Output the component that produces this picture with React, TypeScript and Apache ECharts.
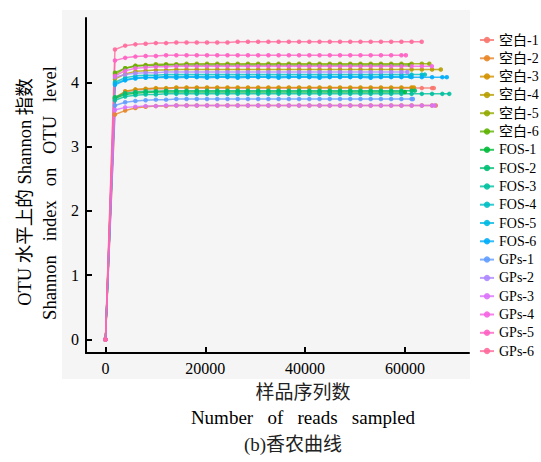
import React, { useEffect, useRef } from "react";
import * as echarts from "echarts";

const names = [
  "空白-1", "空白-2", "空白-3", "空白-4", "空白-5", "空白-6",
  "FOS-1", "FOS-2", "FOS-3", "FOS-4", "FOS-5", "FOS-6",
  "GPs-1", "GPs-2", "GPs-3", "GPs-4", "GPs-5", "GPs-6",
];

const colors = [
  "#F8766D", "#E88526", "#D39200", "#B79F00", "#93AA00", "#5EB300",
  "#00BA38", "#00BF74", "#00C19F", "#00BFC4", "#00B9E3", "#00ADFA",
  "#619CFF", "#AE87FF", "#DB72FB", "#F564E3", "#FF61C3", "#FF699C",
];

// sampling depths (reads) shared by all curves
const depths = [
  0, 1900, 3950, 6000, 8050, 10100, 12150, 14200, 16250, 18300,
  20350, 22400, 24450, 26500, 28550, 30600, 32650, 34700, 36750, 38800,
  40850, 42900, 44950, 47000, 49050, 51100, 53150, 55200, 57250, 59300,
  61350, 63400, 65450, 67500,
];

// final (total) reads of each sample, same order as names
const endReads = [
  65800, 66200, 61800, 67200, 64900, 61000,
  60000, 62000, 68900, 64000, 61000, 68400,
  61600, 60500, 66000, 65400, 60200, 63370,
];

const blank1 = [0, 3.74, 3.85, 3.88, 3.89, 3.90, 3.90, 3.91, 3.91, 3.91,
  3.91, 3.91, 3.91, 3.91, 3.91, 3.91, 3.91, 3.91, 3.91, 3.91,
  3.91, 3.91, 3.91, 3.91, 3.91, 3.91, 3.91, 3.91, 3.91, 3.91,
  3.91, 3.91, 3.91, 3.91];
const blank2 = [0, 3.50, 3.56, 3.60, 3.62, 3.63, 3.63, 3.64, 3.64, 3.64,
  3.64, 3.64, 3.64, 3.64, 3.64, 3.64, 3.64, 3.64, 3.64, 3.64,
  3.64, 3.64, 3.64, 3.64, 3.64, 3.64, 3.64, 3.64, 3.64, 3.64,
  3.64, 3.64, 3.64, 3.64];
const blank3 = [0, 3.76, 3.86, 3.89, 3.90, 3.91, 3.91, 3.92, 3.92, 3.92,
  3.92, 3.92, 3.92, 3.92, 3.92, 3.92, 3.92, 3.92, 3.92, 3.92,
  3.92, 3.92, 3.92, 3.92, 3.92, 3.92, 3.92, 3.92, 3.92, 3.92,
  3.92, 3.92];
const blank4 = [0, 4.05, 4.13, 4.17, 4.18, 4.19, 4.19, 4.20, 4.20, 4.20,
  4.20, 4.20, 4.20, 4.20, 4.20, 4.20, 4.20, 4.20, 4.20, 4.20,
  4.20, 4.20, 4.20, 4.20, 4.20, 4.20, 4.20, 4.20, 4.20, 4.20,
  4.20, 4.20, 4.20, 4.20];
const blank5 = [0, 4.12, 4.22, 4.26, 4.27, 4.28, 4.28, 4.28, 4.29, 4.29,
  4.29, 4.29, 4.29, 4.29, 4.29, 4.29, 4.29, 4.29, 4.29, 4.29,
  4.29, 4.29, 4.29, 4.29, 4.29, 4.29, 4.29, 4.29, 4.29, 4.29,
  4.29, 4.29, 4.29];
const blank6 = [0, 4.15, 4.22, 4.25, 4.26, 4.26, 4.27, 4.27, 4.27, 4.27,
  4.27, 4.27, 4.27, 4.27, 4.27, 4.27, 4.27, 4.27, 4.27, 4.27,
  4.27, 4.27, 4.27, 4.27, 4.27, 4.27, 4.27, 4.27, 4.27, 4.27,
  4.27];
const fos1 = [0, 3.75, 3.81, 3.83, 3.84, 3.85, 3.85, 3.85, 3.85, 3.85,
  3.85, 3.85, 3.85, 3.85, 3.85, 3.85, 3.85, 3.85, 3.85, 3.85,
  3.85, 3.85, 3.85, 3.85, 3.85, 3.85, 3.85, 3.85, 3.85, 3.85,
  3.85];
const fos2 = [0, 3.77, 3.83, 3.85, 3.86, 3.86, 3.87, 3.87, 3.87, 3.87,
  3.87, 3.87, 3.87, 3.87, 3.87, 3.87, 3.87, 3.87, 3.87, 3.87,
  3.87, 3.87, 3.87, 3.87, 3.87, 3.87, 3.87, 3.87, 3.87, 3.87,
  3.87, 3.87];
const fos3 = [0, 3.72, 3.78, 3.80, 3.81, 3.81, 3.82, 3.82, 3.82, 3.82,
  3.82, 3.82, 3.82, 3.82, 3.82, 3.82, 3.82, 3.82, 3.82, 3.82,
  3.82, 3.82, 3.82, 3.82, 3.82, 3.82, 3.82, 3.82, 3.82, 3.82,
  3.82, 3.82, 3.82, 3.82, 3.82];
const fos4 = [0, 4.00, 4.07, 4.10, 4.11, 4.11, 4.12, 4.12, 4.12, 4.12,
  4.12, 4.12, 4.12, 4.12, 4.12, 4.12, 4.12, 4.12, 4.12, 4.12,
  4.12, 4.12, 4.12, 4.12, 4.12, 4.12, 4.12, 4.12, 4.12, 4.12,
  4.12, 4.12, 4.12];
const fos5 = [0, 3.98, 4.04, 4.07, 4.08, 4.08, 4.09, 4.09, 4.09, 4.09,
  4.09, 4.09, 4.09, 4.09, 4.09, 4.09, 4.09, 4.09, 4.09, 4.09,
  4.09, 4.09, 4.09, 4.09, 4.09, 4.09, 4.09, 4.09, 4.09, 4.09,
  4.09];
const fos6 = [0, 3.96, 4.03, 4.06, 4.07, 4.07, 4.08, 4.07, 4.08, 4.08,
  4.07, 4.08, 4.08, 4.07, 4.08, 4.08, 4.08, 4.07, 4.08, 4.08,
  4.08, 4.07, 4.08, 4.08, 4.08, 4.08, 4.07, 4.08, 4.08, 4.08,
  4.08, 4.08, 4.08, 4.08, 4.08];
const gps1 = [0, 3.64, 3.69, 3.71, 3.72, 3.73, 3.73, 3.74, 3.74, 3.74,
  3.74, 3.74, 3.74, 3.74, 3.74, 3.74, 3.74, 3.74, 3.74, 3.74,
  3.74, 3.74, 3.74, 3.74, 3.74, 3.74, 3.74, 3.74, 3.74, 3.74,
  3.74, 3.74];
const gps2 = [0, 4.08, 4.12, 4.14, 4.15, 4.15, 4.16, 4.16, 4.16, 4.16,
  4.16, 4.16, 4.16, 4.16, 4.16, 4.16, 4.16, 4.16, 4.16, 4.16,
  4.16, 4.16, 4.16, 4.16, 4.16, 4.16, 4.16, 4.16, 4.16, 4.16,
  4.16];
const gps3 = [0, 3.57, 3.61, 3.62, 3.63, 3.63, 3.64, 3.64, 3.64, 3.64,
  3.64, 3.64, 3.64, 3.64, 3.64, 3.64, 3.64, 3.64, 3.64, 3.64,
  3.64, 3.64, 3.64, 3.64, 3.64, 3.64, 3.64, 3.64, 3.64, 3.64,
  3.64, 3.64, 3.64, 3.64];
const gps4 = [0, 4.10, 4.18, 4.22, 4.23, 4.24, 4.24, 4.25, 4.25, 4.25,
  4.25, 4.25, 4.25, 4.25, 4.25, 4.25, 4.25, 4.25, 4.25, 4.25,
  4.25, 4.25, 4.25, 4.25, 4.25, 4.25, 4.25, 4.25, 4.25, 4.25,
  4.25, 4.25, 4.25];
const gps5 = [0, 4.34, 4.38, 4.40, 4.41, 4.41, 4.42, 4.42, 4.42, 4.42,
  4.42, 4.42, 4.42, 4.42, 4.42, 4.42, 4.42, 4.42, 4.42, 4.42,
  4.42, 4.42, 4.42, 4.42, 4.42, 4.42, 4.42, 4.42, 4.42, 4.42,
  4.42];
const gps6 = [0, 4.51, 4.57, 4.59, 4.60, 4.61, 4.61, 4.62, 4.62, 4.62,
  4.62, 4.62, 4.62, 4.63, 4.63, 4.63, 4.63, 4.63, 4.63, 4.63,
  4.63, 4.63, 4.63, 4.63, 4.63, 4.63, 4.63, 4.63, 4.63, 4.63,
  4.63, 4.63];

const seriesValues = [
  blank1, blank2, blank3, blank4, blank5, blank6,
  fos1, fos2, fos3, fos4, fos5, fos6,
  gps1, gps2, gps3, gps4, gps5, gps6,
];

const xTicks = [0, 20000, 40000, 60000];
const yTicks = [0, 1, 2, 3, 4];

const SERIF = "'Liberation Serif', 'Noto Sans CJK SC', serif";
const NB = "\u00A0";

export default function App() {
  const ref = useRef<HTMLDivElement>(null);
  useEffect(() => {
    if (!ref.current) return;
    const chart = echarts.init(ref.current, null, { renderer: "svg" });
    const series = names.map((name, i) => {
      const vals = seriesValues[i];
      const data = vals.map((v, k) => [k === vals.length - 1 ? endReads[i] : depths[k], v]);
      return {
        name,
        type: "line",
        data,
        symbol: "circle",
        symbolSize: 4.5,
        showSymbol: true,
        color: colors[i],
        lineStyle: { width: 1.5, opacity: 0.8 },
        itemStyle: { opacity: 0.9 },
      };
    });
    const axisStyle = { color: "#000", width: 2 };
    chart.setOption({
      animation: false,
      backgroundColor: "#ffffff",
      grid: { left: 86, top: 18, right: 72, bottom: 109 },
      xAxis: {
        type: "value",
        min: -3900,
        max: 72850,
        axisLine: { show: true, onZero: false, lineStyle: axisStyle },
        axisTick: { show: true, inside: true, length: 6, lineStyle: axisStyle, customValues: xTicks },
        axisLabel: {
          customValues: xTicks,
          formatter: (v: number) => String(v),
          color: "#000",
          fontSize: 16,
          fontFamily: SERIF,
          margin: 7,
        },
        splitLine: { show: false },
      },
      yAxis: {
        type: "value",
        min: -0.21,
        max: 5.0,
        axisLine: { show: true, onZero: false, lineStyle: axisStyle },
        axisTick: { show: true, inside: true, length: 6, lineStyle: axisStyle, customValues: yTicks },
        axisLabel: {
          customValues: yTicks,
          formatter: (v: number) => String(v),
          color: "#000",
          fontSize: 16,
          fontFamily: SERIF,
          margin: 7,
        },
        splitLine: { show: false },
      },
      legend: {
        orient: "vertical",
        left: 479,
        top: 32,
        padding: 0,
        itemWidth: 14,
        itemHeight: 8,
        itemGap: 2.3,
        data: names,
        textStyle: { fontSize: 14, fontFamily: SERIF, color: "#000", lineHeight: 16 },
      },
      graphic: [
        {
          type: "rect",
          z: -10,
          shape: { x: 62, y: 10, width: 408, height: 369 },
          style: { fill: "#f5f5f5" },
          silent: true,
        },
        {
          type: "text",
          x: 25,
          y: 192,
          rotation: Math.PI / 2,
          style: {
            text: "OTU" + NB + "水平上的" + NB + "Shannon" + NB + "指数",
            fontSize: 18.5,
            fontFamily: SERIF,
            fill: "#000",
            textAlign: "center",
            textVerticalAlign: "middle",
          },
        },
        {
          type: "text",
          x: 50,
          y: 193,
          rotation: Math.PI / 2,
          style: {
            text: "Shannon" + NB + NB + NB + "index" + NB + NB + NB + "on" + NB + NB + NB + "OTU" + NB + NB + NB + "level",
            fontSize: 18.5,
            fontFamily: SERIF,
            fill: "#000",
            textAlign: "center",
            textVerticalAlign: "middle",
          },
        },
        {
          type: "text",
          x: 303,
          y: 392,
          style: {
            text: "样品序列数",
            fontSize: 19,
            fontFamily: SERIF,
            fill: "#222",
            textAlign: "center",
            textVerticalAlign: "middle",
          },
        },
        {
          type: "text",
          x: 303,
          y: 417,
          style: {
            text: "Number" + NB + NB + NB + "of" + NB + NB + NB + "reads" + NB + NB + NB + "sampled",
            fontSize: 19,
            fontFamily: SERIF,
            fill: "#000",
            textAlign: "center",
            textVerticalAlign: "middle",
          },
        },
        {
          type: "text",
          x: 293,
          y: 444,
          style: {
            text: "(b)香农曲线",
            fontSize: 19,
            fontFamily: SERIF,
            fill: "#222",
            textAlign: "center",
            textVerticalAlign: "middle",
          },
        },
      ],
      series,
    });
    return () => chart.dispose();
  }, []);
  return (
    <div
      ref={ref}
      style={{ position: "absolute", left: 0, top: 0, width: 541, height: 462 }}
    />
  );
}
